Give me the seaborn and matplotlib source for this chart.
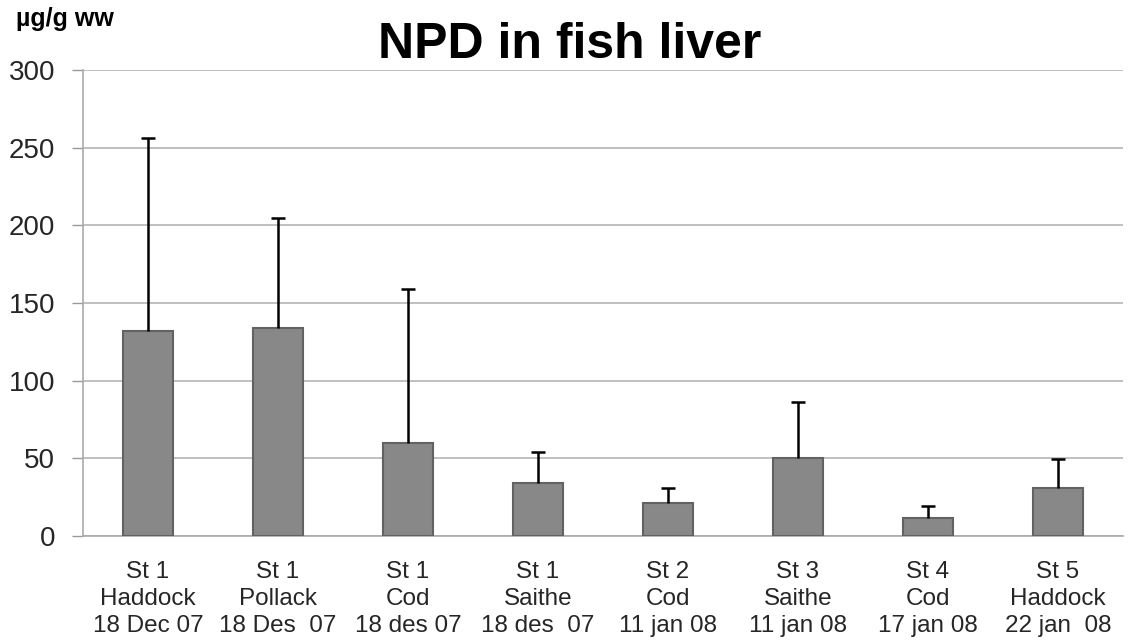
import matplotlib
matplotlib.use("Agg")
import matplotlib.pyplot as plt
import seaborn as sns
import pandas as pd
import numpy as np

# ---- data ----
stations = ["St 1", "St 1", "St 1", "St 1", "St 2", "St 3", "St 4", "St 5"]
species = ["Haddock", "Pollack", "Cod", "Saithe", "Cod", "Saithe", "Cod", "Haddock"]
dates = ["18 Dec 07", "18 Des  07", "18 des 07", "18 des  07", "11 jan 08", "11 jan 08", "17 jan 08", "22 jan  08"]
means = [132, 134, 60, 34, 21, 50, 11.5, 31]
upper_sd = [124, 71, 99, 20, 10, 36, 8, 18.5]
y_ticks = [0, 50, 100, 150, 200, 250, 300]

labels = [f"{s}\n{sp}\n{d}" for s, sp, d in zip(stations, species, dates)]
df = pd.DataFrame({"label": labels, "mean": means, "sd": upper_sd})

sns.set_theme(style="white")
plt.rcParams["font.family"] = ["Liberation Sans", "DejaVu Sans"]

fig = plt.figure(figsize=(11.37, 6.41), dpi=100)
ax = fig.add_axes([83 / 1137, 105 / 641, 1040 / 1137, 466 / 641])

sns.barplot(data=df, x="label", y="mean", color="#888888", width=0.39,
            errorbar=None, ax=ax, saturation=1, edgecolor="#626262", linewidth=1.5,
            zorder=3)

xpos = np.arange(len(df))
_, caps, _ = ax.errorbar(xpos, df["mean"], yerr=[np.zeros(len(df)), df["sd"]], fmt="none",
                         ecolor="black", elinewidth=1.8, capsize=5, capthick=1.8, zorder=4)
caps[0].set_visible(False)

ax.set_xlim(-0.5, len(df) - 0.5)
ax.set_ylim(0, 300)
ax.set_yticks(y_ticks)
ax.set_yticklabels([str(v) for v in y_ticks], fontsize=20)
ax.yaxis.grid(True, color="#b5b5b5", linewidth=1.2, zorder=0)
ax.set_axisbelow(True)

ax.set_xlabel("")
ax.set_ylabel("")
ax.tick_params(axis="x", which="major", length=0, labelsize=17.5, pad=18)
for t in ax.get_xticklabels():
    t.set_linespacing(1.28)
ax.set_xticks(np.arange(-0.5, len(df), 1.0), minor=True)
ax.tick_params(axis="x", which="minor", length=8, width=1, color="#999999", direction="out")
ax.tick_params(axis="y", length=8, width=1, color="#999999", pad=12, left=True)

for sp in ["top", "right"]:
    ax.spines[sp].set_visible(False)
for sp in ["left", "bottom"]:
    ax.spines[sp].set_color("#aaaaaa")
    ax.spines[sp].set_linewidth(1.2)

fig.text(0.501, 1 - 58 / 641, "NPD in fish liver", ha="center", va="baseline",
         fontsize=36, fontweight="bold", color="black")
fig.text(16 / 1137, 1 - 26 / 641, "µg/g ww", ha="left", va="baseline",
         fontsize=18, fontweight="bold", color="black")

fig.savefig("out.png", dpi=100, facecolor="white")
